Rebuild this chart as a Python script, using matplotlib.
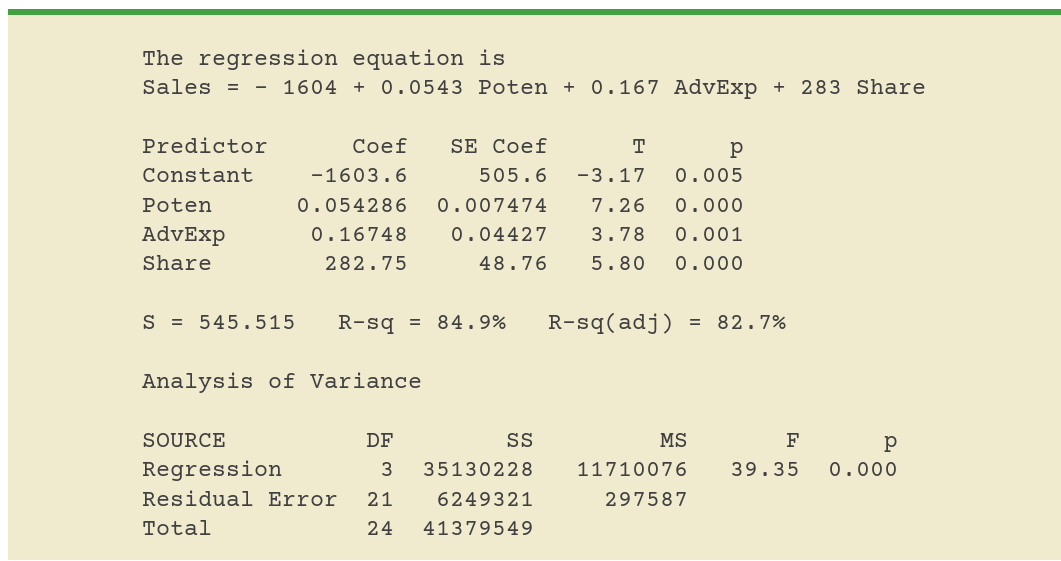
"""
Minitab regression output panel (Sales vs Poten, AdvExp, Share)
"""

import matplotlib
matplotlib.use("Agg")
import matplotlib.pyplot as plt
from matplotlib.patches import Rectangle

############### Output values ################
equation = "Sales = - 1604 + 0.0543 Poten + 0.167 AdvExp + 283 Share"

predictors = ["Constant", "Poten", "AdvExp", "Share"]
coefs = ["-1603.6", "0.054286", "0.16748", "282.75"]
se_coefs = ["505.6", "0.007474", "0.04427", "48.76"]
t_vals = ["-3.17", "7.26", "3.78", "5.80"]
p_vals = ["0.005", "0.000", "0.001", "0.000"]

s_val = "545.515"
r_sq = "84.9%"
r_sq_adj = "82.7%"

sources = ["Regression", "Residual Error", "Total"]
dfs = ["3", "21", "24"]
ss = ["35130228", "6249321", "41379549"]
ms = ["11710076", "297587", ""]
f_vals = ["39.35", "", ""]
anova_p = ["0.000", "", ""]

########### Build the text lines #########
lines = ["The regression equation is", equation, ""]
lines.append(f"{'Predictor':<10}{'Coef':>9}{'SE Coef':>10}{'T':>7}{'p':>7}")
for i in range(len(predictors)):
    lines.append(f"{predictors[i]:<10}{coefs[i]:>9}{se_coefs[i]:>10}{t_vals[i]:>7}{p_vals[i]:>7}")
lines.append("")
lines.append(f"S = {s_val}   R-sq = {r_sq}   R-sq(adj) = {r_sq_adj}")
lines.append("")
lines.append("Analysis of Variance")
lines.append("")
lines.append(f"{'SOURCE':<15}{'DF':>3}{'SS':>10}{'MS':>11}{'F':>8}{'p':>7}")
for i in range(len(sources)):
    row = f"{sources[i]:<15}{dfs[i]:>3}{ss[i]:>10}{ms[i]:>11}{f_vals[i]:>8}{anova_p[i]:>7}"
    lines.append(row.rstrip())

########## Draw the panel ##########
W, H = 1061, 561
fig = plt.figure(figsize=(W / 100, H / 100), dpi=100)
fig.patch.set_facecolor("white")
ax = fig.add_axes([0, 0, 1, 1])
ax.set_xlim(0, W)
ax.set_ylim(H, 0)
ax.axis("off")

# beige box with green top rule
ax.add_patch(Rectangle((8, 15), W - 8, 545, facecolor="#F0EACE", edgecolor="none"))
ax.add_patch(Rectangle((8, 9), W - 8, 6, facecolor="#43A041", edgecolor="none"))

x0 = 142.5
y0 = 64.5
step = 29.4
for i, line in enumerate(lines):
    ax.text(x0, y0 + i * step, line, family=["Courier Prime", "FreeMono"], fontsize=16.85,
            color="#404040", va="baseline", ha="left")

fig.savefig("out.png", dpi=100, facecolor="white")
